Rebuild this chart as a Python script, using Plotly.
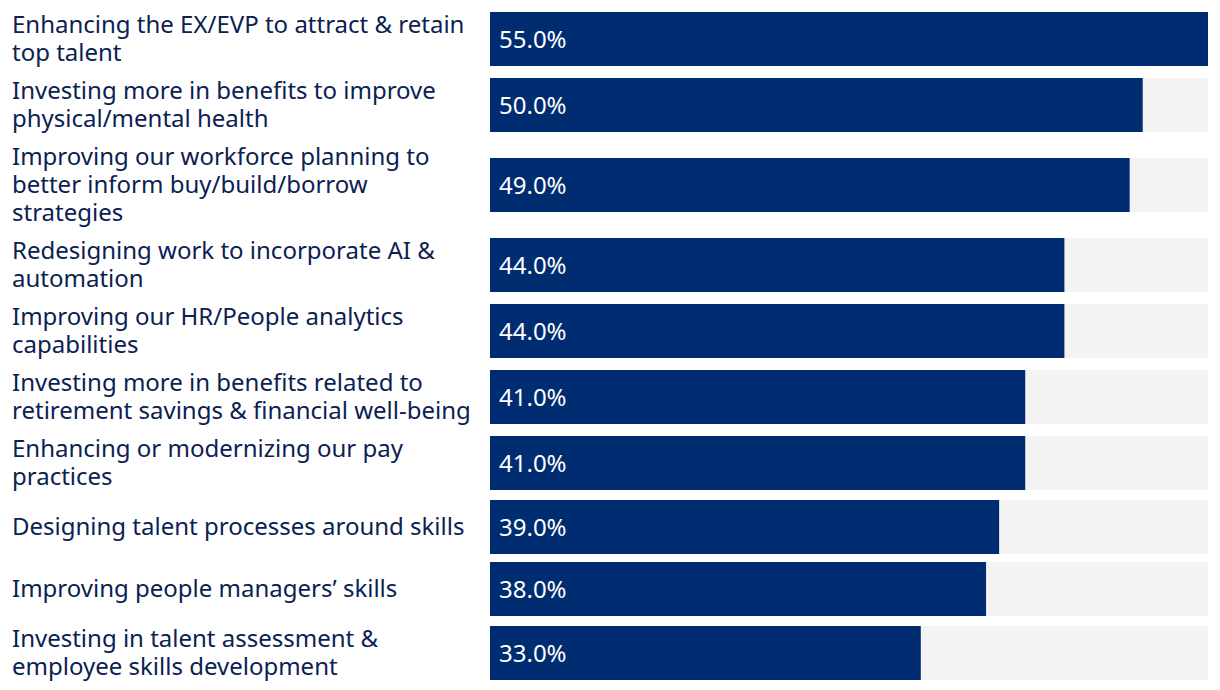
import plotly.graph_objects as go

categories = [
    "Enhancing the EX/EVP to attract & retain<br>top talent",
    "Investing more in benefits to improve<br>physical/mental health",
    "Improving our workforce planning to<br>better inform buy/build/borrow<br>strategies",
    "Redesigning work to incorporate AI &<br>automation",
    "Improving our HR/People analytics<br>capabilities",
    "Investing more in benefits related to<br>retirement savings & financial well-being",
    "Enhancing or modernizing our pay<br>practices",
    "Designing talent processes around skills",
    "Improving people managers\u2019 skills",
    "Investing in talent assessment &<br>employee skills development",
]
values = [55.0, 50.0, 49.0, 44.0, 44.0, 41.0, 41.0, 39.0, 38.0, 33.0]

OFF = 8  # page body margin
W, H = 1220 - OFF, 690 - OFF
BAR_COLOR = "#002D72"
TRACK_COLOR = "#F3F3F3"
TEXT_COLOR = "#0B2152"
FONT = "Noto Sans"
FS = 24
LINE = 28

# row layout: row height depends on the number of label lines
def row_h(label):
    n = label.count("<br>") + 1
    return max(62, LINE * n + 10)

heights = [row_h(c) for c in categories]
centers = []
c = 6 + heights[0] / 2
for i, h in enumerate(heights):
    if i > 0:
        c += (heights[i - 1] + h) / 2
    centers.append(c)

vmax = max(values)

fig = go.Figure()
fig.add_trace(go.Bar(
    x=[vmax] * len(values), y=centers, orientation="h", width=54,
    marker=dict(color=TRACK_COLOR, line=dict(width=0)), hoverinfo="skip", showlegend=False,
))
fig.add_trace(go.Bar(
    x=values, y=centers, orientation="h", width=54,
    marker=dict(color=BAR_COLOR, line=dict(width=0)), showlegend=False,
))

annotations = []
for lab, yc, v in zip(categories, centers, values):
    lines = lab.split("<br>")
    n = len(lines)
    for k, ln in enumerate(lines):
        annotations.append(dict(
            x=(10 - OFF) / W, xref="paper", y=yc + (k - (n - 1) / 2) * LINE, yref="y",
            text=ln, showarrow=False, xanchor="left", yanchor="middle", align="left",
            yshift=2,
            font=dict(family=FONT, size=FS, color=TEXT_COLOR),
        ))
    annotations.append(dict(
        x=0, xref="x", y=yc, yref="y", text=f"{v:.1f}%", showarrow=False,
        xanchor="left", yanchor="middle", xshift=7, yshift=1,
        font=dict(family=FONT, size=FS, color="white"),
    ))

fig.update_layout(
    width=W, height=H,
    margin=dict(l=0, r=0, t=0, b=0),
    paper_bgcolor="white", plot_bgcolor="white",
    barmode="overlay",
    xaxis=dict(domain=[(490 - OFF) / W, (1208 - OFF) / W], range=[0, vmax], visible=False, fixedrange=True),
    yaxis=dict(range=[690, OFF], visible=False, fixedrange=True),
    annotations=annotations,
    font=dict(family=FONT),
)

fig.write_html("out.html", config={"displayModeBar": False})
